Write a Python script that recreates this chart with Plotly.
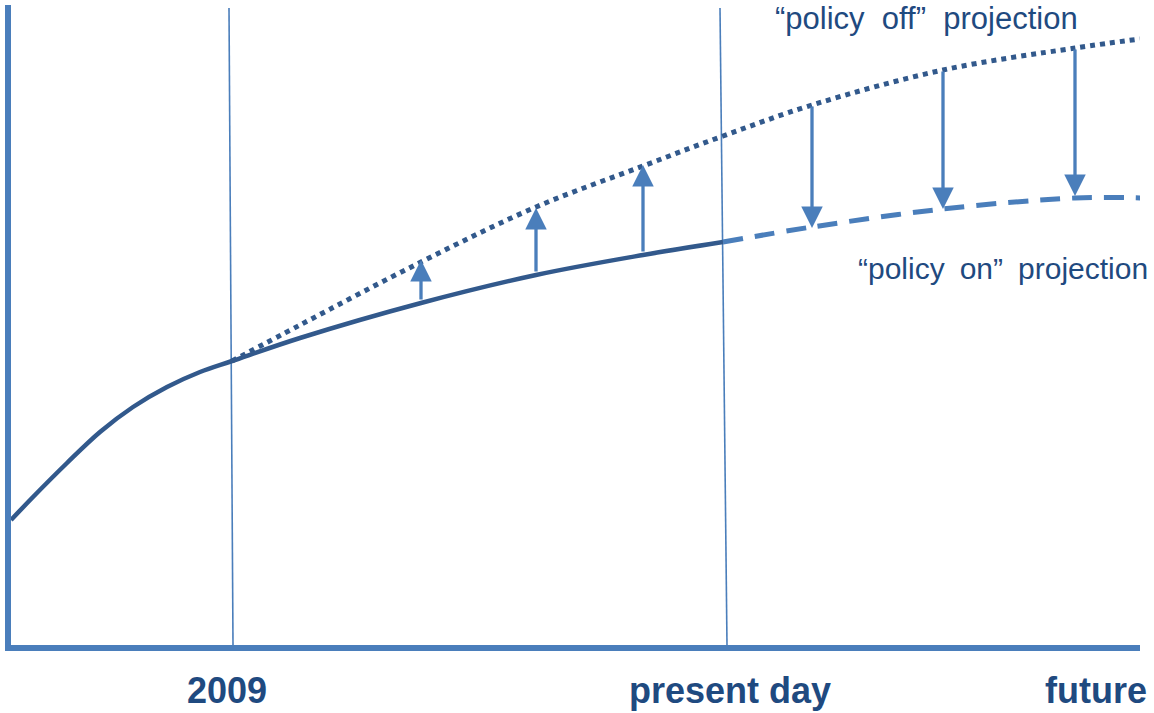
import plotly.graph_objects as go

# ---- data (horizontal position in time units, vertical in value units) ----
hist_x = [11, 33, 67, 100, 133, 167, 200, 232, 300, 421, 536, 643, 723]
hist_y = [125, 148, 182, 213, 238, 258, 273, 284, 307, 342, 370, 390, 403]

off_x = [232, 300, 421, 536, 643, 723, 812, 943, 1075, 1140]
off_y = [284, 320, 383, 438, 479, 509, 540, 575, 597, 606]

on_x = [723, 812, 943, 1075, 1145]
on_y = [403, 418, 436, 447, 447]

up_x = [421, 536, 643]
up_from = [344, 372, 392]
up_to = [385, 437, 480]

down_x = [812, 943, 1075]
down_from = [540, 575, 597]
down_to = [417, 436, 449]

marker_top_x = [229, 720]
marker_bottom_x = [233, 727]
marker_top = 637
marker_bottom = 0

tick_vals = [227, 730, 1096]
tick_text = ["2009", "present day", "future"]

DARK = "#32598c"
MID = "#4a7ebb"
TEXT = "#1f4a80"

fig = go.Figure()

# vertical reference lines
for tx, bx in zip(marker_top_x, marker_bottom_x):
    fig.add_trace(go.Scatter(x=[tx, bx], y=[marker_top, marker_bottom], mode="lines",
                             line=dict(color=MID, width=1.6), hoverinfo="skip", showlegend=False))

fig.add_trace(go.Scatter(x=off_x, y=off_y, mode="lines",
                         line=dict(color=DARK, width=5, dash="5px,5px", shape="spline"), showlegend=False))
fig.add_trace(go.Scatter(x=on_x, y=on_y, mode="lines",
                         line=dict(color=MID, width=5, dash="20px,12px", shape="spline"), showlegend=False))
fig.add_trace(go.Scatter(x=hist_x, y=hist_y, mode="lines",
                         line=dict(color=DARK, width=4.5, shape="spline"), showlegend=False))

for xs, a, b in [(up_x, up_from, up_to), (down_x, down_from, down_to)]:
    for x, y0, y1 in zip(xs, a, b):
        fig.add_annotation(x=x, y=y1, ax=x, ay=y0, xref="x", yref="y", axref="x", ayref="y",
                           text="", showarrow=True, arrowhead=2, arrowsize=1.3, arrowwidth=3.3,
                           arrowcolor=MID)

fig.add_annotation(x=926, y=627, xref="x", yref="y", text="“policy  off”  projection", showarrow=False,
                   font=dict(family="Liberation Sans, Arial", size=31, color=TEXT),
                   xanchor="center", yanchor="middle")
fig.add_annotation(x=856, y=377, xref="x", yref="y", text="“policy\u2002on”\u2002projection", showarrow=False,
                   font=dict(family="Liberation Sans, Arial", size=30, color=TEXT),
                   xanchor="left", yanchor="middle")

fig.update_layout(
    width=1154, height=713,
    margin=dict(l=11, r=14, t=5, b=68),
    paper_bgcolor="white", plot_bgcolor="white",
    xaxis=dict(range=[11, 1140], showgrid=False, zeroline=False, showline=True, linecolor=MID, linewidth=6,
               tickvals=tick_vals, ticktext=tick_text, ticks="", ticklabelstandoff=9, automargin=False,
               tickfont=dict(family="Liberation Sans, Arial", size=36, color=TEXT, weight="bold")),
    yaxis=dict(range=[0, 640], showgrid=False, zeroline=False, showline=True, linecolor=MID, linewidth=6,
               showticklabels=False, ticks="", automargin=False),
)

fig.write_html("out.html", config={"displayModeBar": False},
               post_script="document.body.style.margin='0';document.body.style.overflow='hidden';")
